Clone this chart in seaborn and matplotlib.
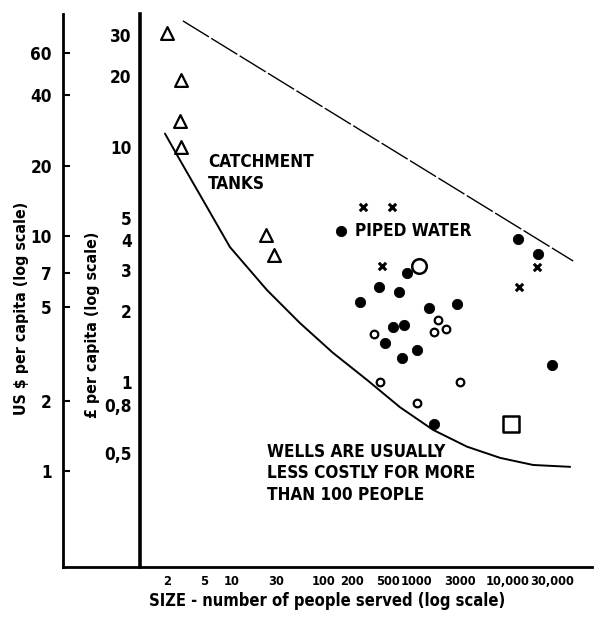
#Cost per capita of rural water supply vs size of community served
import numpy as np
import pandas as pd
import seaborn as sns
import matplotlib.pyplot as plt
from matplotlib import font_manager
from matplotlib.ticker import NullLocator

#Step 1: Data (people served, £ per capita)
tank_x = [1.96, 2.79, 2.73, 2.79, 23.4, 28.6]
tank_y = [30.5, 19.3, 12.9, 10.0, 4.22, 3.47]

piped_x = [153, 798, 396, 653, 246, 1384, 2790, 562, 741, 460, 1026, 705, 12850, 21200, 30100, 1570]
piped_y = [4.39, 2.91, 2.54, 2.41, 2.19, 2.06, 2.15, 1.71, 1.75, 1.47, 1.37, 1.26, 4.06, 3.5, 1.18, 0.663]

open_x = [1734, 2120, 1570, 349, 406, 3010, 1026]
open_y = [1.84, 1.68, 1.63, 1.60, 1.0, 1.0, 0.814]

cross_x = [265, 548, 427, 20650, 13200]
cross_y = [5.55, 5.55, 3.12, 3.09, 2.54]

big_circle_x = [1080]
big_circle_y = [3.12]

square_x = [10800]
square_y = [0.663]

# lower envelope (wells) and upper bound line
curve_x = [1.87, 2.72, 5.35, 9.5, 24, 54.8, 125, 293, 670, 1530, 3580, 8180, 18700, 47200]
curve_y = [11.4, 8.8, 5.55, 3.75, 2.46, 1.78, 1.33, 1.02, 0.78, 0.625, 0.53, 0.475, 0.443, 0.435]
upper_x = [2.93, 50900]
upper_y = [34.4, 3.27]

x_ticks = [2, 5, 10, 30, 100, 200, 500, 1000, 3000, 10000, 30000]
x_tick_labels = ['2', '5', '10', '30', '100', '200', '500', '1000', '3000', '10,000', '30,000']
gbp_ticks = [30, 20, 10, 5, 4, 3, 2, 1, 0.8, 0.5]
gbp_tick_labels = ['30', '20', '10', '5', '4', '3', '2', '1', '0,8', '0,5']
usd_ticks = [60, 40, 20, 10, 7, 5, 2, 1]
usd_tick_labels = ['60', '40', '20', '10', '7', '5', '2', '1']
usd_per_gbp = 2.4

#Step 2: Style - look for a narrow face, the scan uses a condensed bold type
sns.set_theme(style='white')
names = {f.name for f in font_manager.fontManager.ttflist}
cond = {f.name for f in font_manager.fontManager.ttflist if 'cond' in str(f.stretch)}
if 'Liberation Sans Narrow' in names:
    fam, stretch, k = 'Liberation Sans Narrow', 'normal', 1.0
elif 'DejaVu Sans' in cond:
    fam, stretch, k = 'DejaVu Sans', 'condensed', 0.95
elif 'Roboto Condensed' in names:
    fam, stretch, k = 'Roboto Condensed', 'normal', 1.0
else:
    fam, stretch, k = 'DejaVu Sans', 'normal', 0.82
plt.rcParams['font.family'] = [fam, 'DejaVu Sans']
plt.rcParams['font.stretch'] = stretch
plt.rcParams['font.weight'] = 'bold'
plt.rcParams['axes.labelweight'] = 'bold'
plt.rcParams['axes.edgecolor'] = 'black'
plt.rcParams['axes.labelcolor'] = 'black'
plt.rcParams['xtick.color'] = 'black'
plt.rcParams['ytick.color'] = 'black'
plt.rcParams['text.color'] = 'black'

fig = plt.figure(figsize=(6, 6.2), dpi=100)
ax = fig.add_axes([0.105, 0.0855, 0.882, 0.8919])
ax.set_xscale('log')
ax.set_yscale('log')

#Step 3: Lines
sns.lineplot(x=curve_x, y=curve_y, sort=False, color='black', lw=1.4, ax=ax)
sns.lineplot(x=upper_x, y=upper_y, sort=False, color='black', lw=1.0,
             linestyle=(0, (22, 2)), ax=ax)

#Step 4: Points
sns.scatterplot(x=tank_x, y=tank_y, marker='^', s=85, color='white',
                edgecolor='black', linewidth=1.6, ax=ax, zorder=3)
sns.scatterplot(x=piped_x, y=piped_y, marker='o', s=55, color='black',
                edgecolor='black', ax=ax, zorder=3)
sns.scatterplot(x=open_x, y=open_y, marker='o', s=30, color='white',
                edgecolor='black', linewidth=1.6, ax=ax, zorder=3)
sns.scatterplot(x=cross_x, y=cross_y, marker='x', s=28, color='black',
                linewidth=2.2, ax=ax, zorder=3)
sns.scatterplot(x=big_circle_x, y=big_circle_y, marker='o', s=110, color='white',
                edgecolor='black', linewidth=1.8, ax=ax, zorder=3)
sns.scatterplot(x=square_x, y=square_y, marker='s', s=120, color='white',
                edgecolor='black', linewidth=1.8, ax=ax, zorder=3)

#Step 5: Annotations
ax.text(5.5, 9.4, 'CATCHMENT\nTANKS', fontsize=13 * k, ha='left', va='top', linespacing=1.3)
ax.text(217, 4.39, 'PIPED WATER', fontsize=13 * k, ha='left', va='center')
ax.text(24, 0.55, 'WELLS ARE USUALLY\nLESS COSTLY FOR MORE\nTHAN 100 PEOPLE',
        fontsize=13 * k, ha='left', va='top', linespacing=1.25)

#Step 6: Axes
ax.set_xlim(0.146, 82000)
ax.set_ylim(0.163, 36.8)
ax.spines['top'].set_visible(False)
ax.spines['right'].set_visible(False)
ax.spines['left'].set_position(('data', 1))
ax.spines['left'].set_linewidth(2.6)
ax.spines['bottom'].set_linewidth(2.0)

ax.set_xticks(x_ticks, x_tick_labels)
ax.set_yticks(gbp_ticks, gbp_tick_labels)
ax.xaxis.set_minor_locator(NullLocator())
ax.yaxis.set_minor_locator(NullLocator())
ax.tick_params(axis='x', direction='in', length=4, width=1.2, labelsize=9.2 * k / 0.95, pad=6)
ax.tick_params(axis='y', direction='in', length=5, width=1.5, labelsize=13 * k, pad=6)
ax.set_xlabel('SIZE - number of people served (log scale)', fontsize=12.5 * k, labelpad=3)

sec = ax.secondary_yaxis('left', functions=(lambda v: v * usd_per_gbp, lambda v: v / usd_per_gbp))
sec.set_yticks(usd_ticks, usd_tick_labels)
sec.yaxis.set_minor_locator(NullLocator())
sec.tick_params(axis='y', direction='in', length=5, width=1.5, labelsize=13 * k, pad=8)
sec.spines['left'].set_linewidth(2.0)

fig.text(22 / 600, 1 - 308 / 620, 'US $ per capita (log scale)', rotation=90,
         ha='center', va='center', fontsize=12 * k)
fig.text(92 / 600, 1 - 325 / 620, '£ per capita (log scale)', rotation=90,
         ha='center', va='center', fontsize=12 * k)

fig.savefig('out.png', dpi=100)
